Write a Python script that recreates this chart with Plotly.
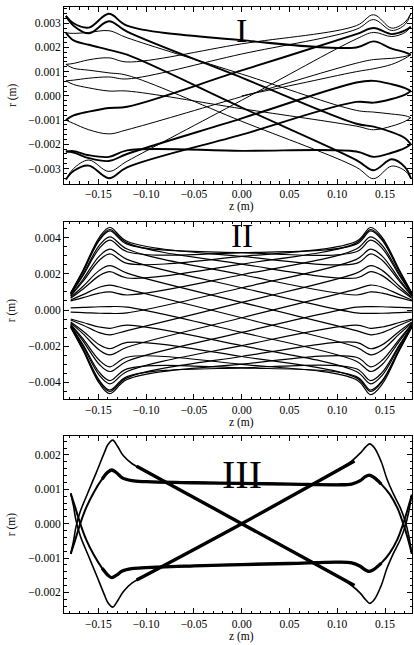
import plotly.graph_objects as go

FONT = "Liberation Serif"

# ---------------- Panel I : trajectory passes (r in mm) ----------------
z_I = [-0.184, -0.176, -0.160, -0.139, -0.120, 0.0, 0.120, 0.138, 0.157, 0.171, 0.177]
r_I_mm = [
    [3.30, 3.00, 2.82, 3.39, 2.90, 2.30, 2.00, 2.25, 1.95, 1.80, 1.70],
    [3.30, 2.90, 2.58, 3.08, 2.65, 0.75, -1.15, -1.27, -1.50, -1.75, -2.00],
    [2.60, 2.58, 2.62, 2.69, 2.40, 0.90, -0.60, -0.67, -0.75, -0.82, -0.90],
    [2.60, 2.29, 2.11, 1.90, 1.70, -0.48, -2.65, -3.07, -2.62, -2.95, -3.40],
    [1.30, 1.34, 1.49, 1.57, 1.40, 2.15, 2.90, 3.35, 2.80, 3.05, 3.40],
    [1.30, 1.14, 1.06, 0.95, 0.85, -1.05, -2.95, -3.42, -2.90, -3.10, -3.40],
    [0.62, 0.65, 0.73, 0.78, 0.70, 1.73, 2.75, 3.15, 2.70, 2.95, 3.40],
    [0.62, 0.47, 0.33, 0.20, 0.20, -0.53, -1.25, -1.40, -1.25, -1.05, -0.90],
    [-1.00, -0.81, -0.65, -0.50, -0.45, 1.05, 2.55, 2.80, 2.55, 2.70, 2.85],
    [-1.00, -1.14, -1.40, -1.57, -1.40, -0.03, 1.35, 1.50, 1.55, 1.63, 1.70],
    [-2.30, -2.28, -2.45, -2.52, -2.25, -2.27, -2.30, -2.52, -2.35, -2.15, -2.00],
    [-2.30, -2.34, -2.57, -2.69, -2.40, -0.93, 0.55, 0.62, 0.48, 0.32, 0.20],
    [-3.45, -3.00, -2.65, -3.12, -2.70, -0.18, 2.35, 2.62, 2.45, 2.62, 2.85],
    [-3.45, -3.10, -2.88, -3.40, -2.95, -1.60, -0.25, -0.28, -0.13, 0.05, 0.20],
]
I_thick = [True, True, False, True, False, False, False, False, True, False, True, True, False, True]
z_I_start = [0.0, 0.06, 0.12, 0.138, 0.157, 0.171, 0.177]
r_I_start_mm = [0.0, 0.50, 1.00, 1.12, 1.30, 1.55, 1.70]

# ---------------- Panel II : trajectory passes (r in mm) ----------------
z_II = [-0.179, -0.166, -0.149, -0.138, -0.120, 0.0, 0.120, 0.135, 0.147, 0.165, 0.178]
r_II_mm = [
    [0.86, 1.91, 3.41, 3.86, 3.22, 3.17, 3.64, 4.37, 3.85, 2.13, 0.92],
    [0.77, 1.59, 2.75, 3.10, 2.58, 2.96, 3.80, 4.56, 4.02, 2.21, 0.95],
    [0.65, 1.16, 1.90, 2.12, 1.77, 2.54, 3.71, 4.45, 3.92, 2.16, 0.93],
    [0.50, 0.68, 0.93, 1.00, 0.83, 1.95, 3.37, 4.04, 3.57, 1.99, 0.88],
    [-0.12, -0.14, -0.18, -0.19, -0.16, 1.23, 2.80, 3.36, 2.98, 1.70, 0.80],
    [-0.55, -0.84, -1.25, -1.37, -1.14, 0.42, 2.04, 2.45, 2.19, 1.31, 0.70],
    [0.92, 2.13, 3.85, 4.37, 3.64, 3.17, 3.22, 3.86, 3.41, 1.91, 0.86],
    [0.95, 2.21, 4.02, 4.56, 3.80, 2.96, 2.58, 3.10, 2.75, 1.59, 0.77],
    [0.93, 2.16, 3.92, 4.45, 3.71, 2.54, 1.77, 2.12, 1.90, 1.16, 0.65],
    [0.88, 1.99, 3.57, 4.04, 3.37, 1.95, 0.83, 1.00, 0.93, 0.68, 0.50],
    [0.80, 1.70, 2.98, 3.36, 2.80, 1.23, -0.16, -0.19, -0.18, -0.14, -0.12],
    [0.70, 1.31, 2.19, 2.45, 2.04, 0.42, -1.14, -1.37, -1.25, -0.84, -0.55],
    [-0.86, -1.93, -3.45, -3.90, -3.25, -3.20, -3.68, -4.42, -3.90, -2.15, -0.93],
    [-0.78, -1.60, -2.78, -3.14, -2.61, -3.00, -3.85, -4.68, -4.10, -2.24, -0.96],
    [-0.66, -1.17, -1.92, -2.14, -1.79, -2.57, -3.75, -4.50, -3.96, -2.18, -0.94],
    [-0.50, -0.69, -0.94, -1.01, -0.84, -1.97, -3.40, -4.08, -3.61, -2.01, -0.89],
    [0.12, 0.14, 0.18, 0.19, 0.16, -1.24, -2.83, -3.40, -3.01, -1.72, -0.81],
    [0.55, 0.85, 1.26, 1.38, 1.15, -0.43, -2.06, -2.48, -2.21, -1.32, -0.71],
    [-0.93, -2.15, -3.89, -4.42, -3.68, -3.20, -3.25, -3.90, -3.45, -1.93, -0.87],
    [-0.96, -2.24, -4.06, -4.62, -3.84, -2.99, -2.61, -3.14, -2.78, -1.61, -0.78],
    [-0.94, -2.18, -3.96, -4.50, -3.75, -2.57, -1.79, -2.14, -1.92, -1.17, -0.66],
    [-0.89, -2.01, -3.61, -4.08, -3.40, -1.97, -0.84, -1.01, -0.94, -0.69, -0.50],
    [-0.81, -1.72, -3.01, -3.40, -2.83, -1.24, 0.16, 0.19, 0.18, 0.14, 0.12],
    [-0.71, -1.32, -2.21, -2.48, -2.06, -0.43, 1.15, 1.38, 1.26, 0.85, 0.55],
]

# ---------------- Panel III : closed orbit pieces (r in mm) ----------------
z_III_outer = [-0.179, -0.176, -0.1735, -0.169, -0.161, -0.152, -0.144, -0.140, -0.135, -0.130, -0.124, -0.115,
               -0.100, 0.0, 0.100, 0.115, 0.124, 0.130, 0.134, 0.139, 0.146, 0.152, 0.159, 0.166, 0.171, 0.1745, 0.178]
r_III_outer1_mm = [-0.88, -0.50, -0.10, 0.35, 0.90, 1.50, 2.05, 2.30, 2.43, 2.25, 1.98, 1.75,
                   1.52, 0.0, -1.52, -1.80, -2.02, -2.22, -2.32, -2.20, -1.80, -1.30, -0.85, -0.46, -0.08, 0.31, 0.84]
r_III_outer2_mm = [0.88, 0.50, 0.10, -0.35, -0.90, -1.50, -2.05, -2.30, -2.43, -2.25, -1.98, -1.73,
                   -1.50, 0.0, 1.55, 1.82, 2.05, 2.24, 2.32, 2.20, 1.80, 1.30, 0.85, 0.46, 0.08, -0.31, -0.88]
z_III_inner = [-0.179, -0.174, -0.169, -0.163, -0.155, -0.146, -0.140, -0.136, -0.131, -0.125, -0.115, -0.100,
               -0.050, 0.0, 0.050, 0.100, 0.115, 0.124, 0.129, 0.1335, 0.138, 0.146, 0.155, 0.163, 0.169, 0.174, 0.178]
r_III_inner1_mm = [-0.88, -0.45, 0.0, 0.45, 0.90, 1.30, 1.50, 1.56, 1.48, 1.33, 1.25, 1.22,
                   1.19, 1.17, 1.15, 1.13, 1.15, 1.25, 1.36, 1.41, 1.35, 1.15, 0.85, 0.45, 0.0, -0.45, -0.88]
r_III_inner2_mm = [0.88, 0.45, 0.0, -0.45, -0.90, -1.30, -1.50, -1.57, -1.50, -1.38, -1.31, -1.28,
                   -1.23, -1.19, -1.16, -1.12, -1.14, -1.24, -1.34, -1.39, -1.34, -1.15, -0.85, -0.45, 0.0, 0.45, 0.84]
# densely retraced central parts (drawn heavier)
z_III_band = [-0.146, -0.140, -0.136, -0.131, -0.125, -0.115, -0.100, -0.050, 0.0, 0.050, 0.100, 0.115,
              0.124, 0.129, 0.1335, 0.138, 0.146]
r_III_band1_mm = [1.30, 1.50, 1.56, 1.48, 1.33, 1.25, 1.22, 1.19, 1.17, 1.15, 1.13, 1.15,
                  1.25, 1.36, 1.41, 1.35, 1.15]
r_III_band2_mm = [-1.30, -1.50, -1.57, -1.50, -1.38, -1.31, -1.28, -1.23, -1.19, -1.16, -1.12, -1.14,
                  -1.24, -1.34, -1.39, -1.34, -1.15]
z_III_diag = [-0.110, 0.0, 0.118]
r_III_diag1_mm = [1.67, 0.0, -1.80]
r_III_diag2_mm = [-1.64, 0.0, 1.82]

# ---------------- axes settings ----------------
x_range = [-0.186, 0.1782]
y_ranges = [[-0.00362, 0.00367], [-0.00492, 0.00488], [-0.00260, 0.00255]]
y_domains = [[0.7087, 1.0], [0.3531, 0.6457], [0.0, 0.2921]]
y_dticks = [0.001, 0.002, 0.001]
y_minor = [0.0002, 0.0005, 0.0002]
labels = ["I", "II", "III"]
label_r = [0.00271, 0.00407, 0.00142]
label_size = [34, 33, 40]


def mm(vals):
    return [v / 1000.0 for v in vals]


fig = go.Figure()


def add_line(z, r, width, axis):
    fig.add_trace(go.Scatter(
        x=z, y=mm(r), mode="lines",
        line=dict(color="black", width=width, shape="spline", smoothing=1.0),
        xaxis="x" + axis, yaxis="y" + axis, showlegend=False, hoverinfo="skip"))


# panel I
for r, thick in zip(r_I_mm, I_thick):
    add_line(z_I, r, 1.9 if thick else 1.0, "")
add_line(z_I_start, r_I_start_mm, 1.0, "")

# panel II
for r in r_II_mm:
    add_line(z_II, r, 1.2, "2")

# panel III
add_line(z_III_outer, r_III_outer1_mm, 1.6, "3")
add_line(z_III_outer, r_III_outer2_mm, 1.6, "3")
add_line(z_III_inner, r_III_inner1_mm, 2.0, "3")
add_line(z_III_inner, r_III_inner2_mm, 2.0, "3")
add_line(z_III_band, r_III_band1_mm, 3.3, "3")
add_line(z_III_band, r_III_band2_mm, 3.3, "3")
add_line(z_III_diag, r_III_diag1_mm, 3.4, "3")
add_line(z_III_diag, r_III_diag2_mm, 3.4, "3")

tickfont = dict(family=FONT, size=11.5, color="black")
layout = dict(
    width=414, height=645,
    margin=dict(l=64, r=2, t=7, b=32),
    paper_bgcolor="white", plot_bgcolor="white",
    showlegend=False,
    font=dict(family=FONT, color="black"),
)
annotations = []
for i in range(3):
    sfx = "" if i == 0 else str(i + 1)
    layout["xaxis" + sfx] = dict(
        domain=[0, 1], anchor="y" + sfx, range=x_range,
        showline=True, linecolor="black", linewidth=1, mirror="allticks",
        ticks="inside", ticklen=5, tickwidth=1, tickcolor="black",
        dtick=0.05, tick0=0, tickformat=".2f", tickfont=tickfont,
        showgrid=False, zeroline=False,
        minor=dict(ticks="inside", ticklen=2.5, tickcolor="black", dtick=0.01, showgrid=False),
    )
    layout["yaxis" + sfx] = dict(
        domain=y_domains[i], anchor="x" + sfx, range=y_ranges[i],
        showline=True, linecolor="black", linewidth=1, mirror="allticks",
        ticks="inside", ticklen=5, tickwidth=1, tickcolor="black",
        dtick=y_dticks[i], tick0=0, tickformat=".3f", tickfont=tickfont,
        showgrid=False, zeroline=False,
        minor=dict(ticks="inside", ticklen=2.5, tickcolor="black", dtick=y_minor[i], showgrid=False),
    )
    annotations.append(dict(
        x=0.0, y=label_r[i], xref="x" + sfx, yref="y" + sfx, text=labels[i],
        showarrow=False, font=dict(family=FONT, size=label_size[i], color="black"),
        xanchor="center", yanchor="middle"))
    ymid = (y_domains[i][0] + y_domains[i][1]) / 2
    annotations.append(dict(
        x=-0.15, y=ymid, xref="paper", yref="paper", text="r (m)", textangle=-90,
        showarrow=False, font=dict(family=FONT, size=11.5, color="black"),
        xanchor="center", yanchor="middle"))
    annotations.append(dict(
        x=0.0, y=y_domains[i][0], xref="x" + sfx, yref="paper", text="z (m)",
        showarrow=False, font=dict(family=FONT, size=11.5, color="black"),
        xanchor="center", yanchor="middle", yshift=-23))
layout["annotations"] = annotations
fig.update_layout(**layout)
fig.write_html(
    "out.html",
    config={"displayModeBar": False},
    post_script="document.body.style.margin='0px';document.body.style.overflow='hidden';",
)
